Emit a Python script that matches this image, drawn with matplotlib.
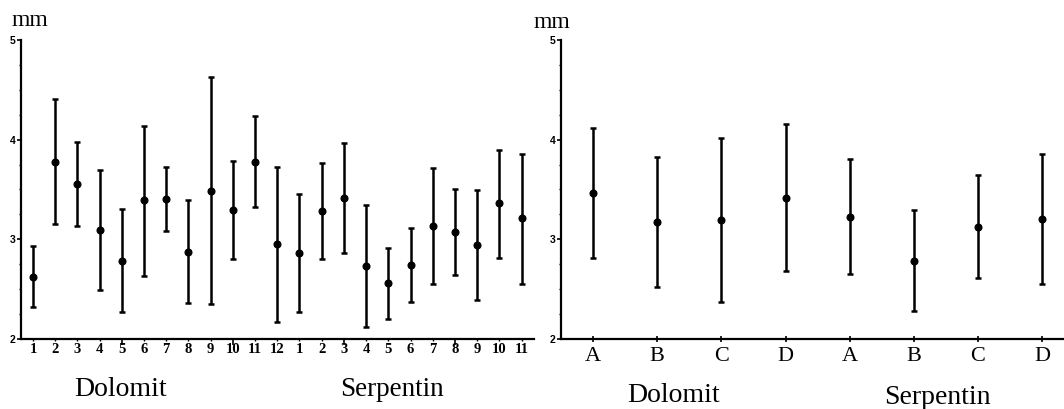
import matplotlib
matplotlib.use("Agg")
import matplotlib.pyplot as plt
from matplotlib.ticker import MultipleLocator, FixedLocator
import numpy as np

# Left panel: individual sites
left_labels = [str(i) for i in range(1, 13)] + [str(i) for i in range(1, 12)]
left_mean = [2.625, 3.779, 3.555, 3.094, 2.786, 3.395, 3.401, 2.876, 3.488, 3.294, 3.779, 2.950,
             2.860, 3.284, 3.418, 2.732, 2.559, 2.742, 3.134, 3.077, 2.943, 3.361, 3.211]
left_low = [2.318, 3.154, 3.137, 2.492, 2.268, 2.635, 3.087, 2.358, 2.348, 2.803, 3.328, 2.174,
            2.268, 2.803, 2.866, 2.117, 2.201, 2.375, 2.552, 2.642, 2.391, 2.816, 2.552]
left_high = [2.936, 4.408, 3.973, 3.696, 3.304, 4.137, 3.722, 3.395, 4.632, 3.786, 4.237, 3.722,
             3.455, 3.763, 3.970, 3.344, 2.910, 3.110, 3.712, 3.505, 3.495, 3.896, 3.856]

# Right panel: classes
right_labels = ["A", "B", "C", "D", "A", "B", "C", "D"]
right_mean = [3.468, 3.171, 3.194, 3.418, 3.227, 2.786, 3.127, 3.204]
right_low = [2.816, 2.525, 2.368, 2.682, 2.649, 2.281, 2.615, 2.548]
right_high = [4.120, 3.823, 4.020, 4.154, 3.806, 3.294, 3.645, 3.856]

groups = ["Dolomit", "Serpentin"]

serif = ["Liberation Serif", "DejaVu Serif"]
sans = ["Liberation Sans", "DejaVu Sans"]

fig = plt.figure(figsize=(10.64, 4.09), dpi=100)
W, H = 1064, 409

def px_axes(x0, x1, ytop, ybot):
    return fig.add_axes([x0 / W, 1 - ybot / H, (x1 - x0) / W, (ybot - ytop) / H])

axL = px_axes(21, 534, 40, 339)
axR = px_axes(561, 1064, 40, 339)

def style(ax):
    for s in ["top", "right"]:
        ax.spines[s].set_visible(False)
    for s in ["left", "bottom"]:
        ax.spines[s].set_linewidth(1.6)
        ax.spines[s].set_color("black")
    ax.set_ylim(2, 5)
    ax.yaxis.set_major_locator(MultipleLocator(1))
    ax.yaxis.set_minor_locator(MultipleLocator(0.25))
    ax.tick_params(axis="y", which="major", length=3, width=1.2, pad=1,
                   labelsize=7.5)
    ax.tick_params(axis="y", which="minor", length=1.5, width=1.0)
    for t in ax.get_yticklabels():
        t.set_fontfamily(sans)
        t.set_fontweight("bold")

def draw(ax, mean, low, high):
    x = np.arange(1, len(mean) + 1)
    m = np.array(mean)
    err = np.vstack([m - np.array(low), np.array(high) - m])
    ax.errorbar(x, m, yerr=err, fmt="o", color="black", ms=4.8, elinewidth=1.8,
                capsize=2.5, capthick=1.8)

# Left
style(axL)
draw(axL, left_mean, left_low, left_high)
axL.set_xlim(0.46, 23.56)
axL.xaxis.set_major_locator(FixedLocator([5, 10, 15, 20]))
axL.xaxis.set_minor_locator(FixedLocator(range(1, 24)))
axL.tick_params(axis="x", which="major", length=4, width=1.2, labelbottom=False)
axL.tick_params(axis="x", which="minor", length=1.5, width=1.0)
for i, lab in enumerate(left_labels):
    axL.text(i + 1, 2 - 11 / 99.7, lab, ha="center", va="center",
             fontsize=10.5, fontfamily=serif, fontweight="bold")
fig.text(121 / W, 1 - 389 / H, groups[0], ha="center", va="center",
         fontsize=20, fontfamily=serif)
fig.text(392 / W, 1 - 389 / H, groups[1], ha="center", va="center",
         fontsize=19.5, fontfamily=serif)
fig.text(11 / W, 1 - 20 / H, "mm", ha="left", va="center", fontsize=17, fontfamily=serif)

# Right
style(axR)
draw(axR, right_mean, right_low, right_high)
axR.set_xlim(0.5, 8.34)
axR.set_xticks(range(1, 9))
axR.set_xticklabels(right_labels, fontsize=16, fontfamily=serif)
axR.tick_params(axis="x", which="major", length=5, width=1.2, direction="inout", pad=3)
axR.xaxis.set_minor_locator(FixedLocator([]))
fig.text(674 / W, 1 - 395 / H, groups[0], ha="center", va="center", fontsize=20, fontfamily=serif)
fig.text(937 / W, 1 - 397 / H, groups[1], ha="center", va="center", fontsize=20, fontfamily=serif)
fig.text(533 / W, 1 - 23 / H, "mm", ha="left", va="center", fontsize=17, fontfamily=serif)

fig.savefig("out.png", dpi=100)
